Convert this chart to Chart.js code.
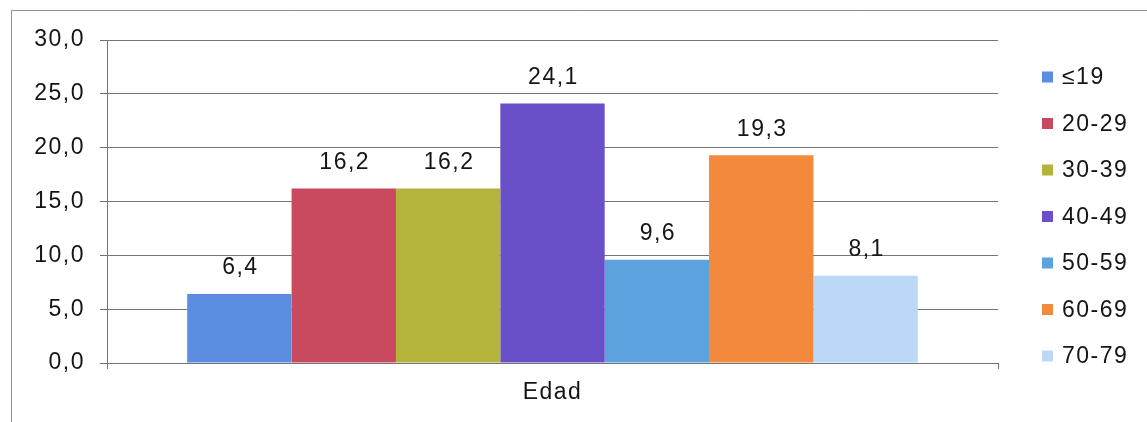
<!DOCTYPE html>
<html>
<head>
<meta charset="utf-8">
<script src="https://cdn.jsdelivr.net/npm/chart.js@4/dist/chart.umd.min.js"></script>
<style>
  html, body { margin: 0; padding: 0; background: #ffffff; }
  #wrap { width: 1147px; height: 422px; }
</style>
</head>
<body>
<div id="wrap"><canvas id="c" width="1147" height="422"></canvas></div>
<script>
// Grupo de edad: porcentaje por tramo
const categories = ['Edad'];
const ageGroups = ['\u226419', '20-29', '30-39', '40-49', '50-59', '60-69', '70-79'];
const percentages = [6.4, 16.2, 16.2, 24.1, 9.6, 19.3, 8.1];
const groupColors = ['#5b8de0', '#c94a5e', '#b4b33c', '#6a50c8', '#5ca2de', '#f2893d', '#bcd8f7'];
const yMin = 0, yMax = 30, yStep = 5;

const FONT = { family: '"Liberation Sans", Arial, sans-serif', size: 23 };
const SPACING = '1.5px';
const TEXT = '#151515';
const LINE = '#747474';
const fmt = v => v.toFixed(1).replace('.', ',');

const datasets = ageGroups.map((name, i) => ({
  label: name,
  data: [percentages[i]],
  backgroundColor: groupColors[i],
  borderWidth: 0
}));

// Marco exterior, espaciado de texto, etiquetas de valor y leyenda
const decor = {
  id: 'decor',
  beforeDraw(chart) {
    const ctx = chart.ctx;
    ctx.letterSpacing = SPACING;
    ctx.save();
    ctx.strokeStyle = '#8f8f8f';
    ctx.lineWidth = 1;
    ctx.beginPath();
    ctx.moveTo(11.5, chart.height);
    ctx.lineTo(11.5, 10.5);
    ctx.lineTo(chart.width, 10.5);
    ctx.stroke();
    ctx.restore();
  },
  afterDatasetsDraw(chart) {
    const ctx = chart.ctx;
    ctx.save();
    ctx.letterSpacing = SPACING;
    ctx.font = FONT.size + 'px ' + FONT.family;
    ctx.fillStyle = TEXT;
    ctx.textAlign = 'center';
    ctx.textBaseline = 'middle';
    chart.data.datasets.forEach((ds, i) => {
      const bar = chart.getDatasetMeta(i).data[0];
      ctx.fillText(fmt(ds.data[0]), bar.x + 1, bar.y - 26);
    });
    ctx.restore();
  },
  afterDraw(chart) {
    const ctx = chart.ctx;
    ctx.save();
    ctx.letterSpacing = SPACING;
    ctx.font = FONT.size + 'px ' + FONT.family;
    ctx.textBaseline = 'middle';
    ctx.textAlign = 'left';
    chart.data.datasets.forEach((ds, i) => {
      const cy = 77 + i * 46.5;
      ctx.fillStyle = ds.backgroundColor;
      ctx.fillRect(1042, cy - 5.5, 11, 11);
      ctx.fillStyle = TEXT;
      ctx.fillText(ds.label, 1062, cy + 1);
    });
    ctx.restore();
  }
};

new Chart(document.getElementById('c'), {
  type: 'bar',
  data: { labels: categories, datasets },
  options: {
    responsive: false,
    animation: false,
    layout: { padding: { left: 0, right: 149, top: 40, bottom: 0 } },
    datasets: { bar: { barPercentage: 1.0, categoryPercentage: 0.82 } },
    plugins: { legend: { display: false }, tooltip: { enabled: false } },
    scales: {
      x: {
        offset: true,
        grid: { display: true, drawOnChartArea: false, offset: true, tickLength: 6, color: LINE },
        border: { display: true, color: LINE },
        ticks: { font: FONT, color: TEXT, padding: 10 },
        afterFit(scale) { scale.height = 59; }
      },
      y: {
        min: yMin,
        max: yMax,
        grid: { color: LINE, tickLength: 7 },
        border: { display: true, color: LINE },
        ticks: {
          stepSize: yStep,
          font: FONT,
          color: TEXT,
          padding: 15,
          callback: v => fmt(v)
        },
        afterFit(scale) { scale.width = 107; }
      }
    }
  },
  plugins: [decor]
});
</script>
</body>
</html>
